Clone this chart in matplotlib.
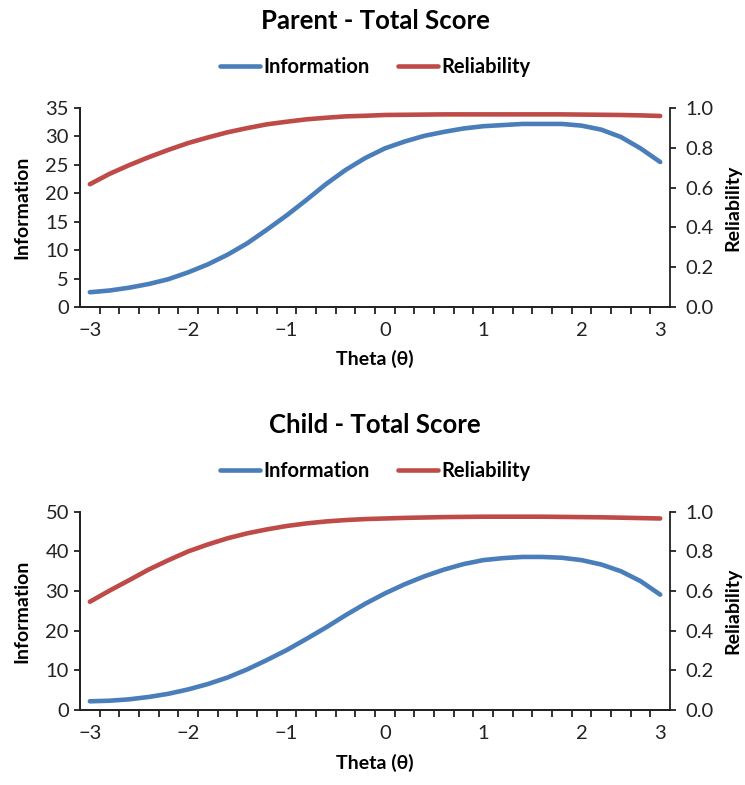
import matplotlib
matplotlib.use("Agg")
import matplotlib.pyplot as plt
import numpy as np

plt.rcParams['font.family'] = ['Lato', 'DejaVu Sans']

# theta categories (30 points), only some are labelled
tick_pos = [0, 5, 10, 15, 20, 25, 29]
tick_labels = ["\u22123", "\u22122", "\u22121", "0", "1", "2", "3"]

parent_info = [2.6, 2.9, 3.4, 4.05, 4.9, 6.1, 7.5, 9.2, 11.2, 13.6,
               16.1, 18.8, 21.6, 24.1, 26.2, 27.9, 29.1, 30.1, 30.8, 31.4,
               31.8, 32.0, 32.2, 32.2, 32.2, 31.9, 31.2, 29.9, 27.9, 25.5]
parent_rel = [0.617, 0.669, 0.713, 0.753, 0.790, 0.824, 0.852, 0.878, 0.899, 0.918,
              0.931, 0.943, 0.951, 0.958, 0.961, 0.965, 0.966, 0.967, 0.968, 0.968,
              0.968, 0.968, 0.968, 0.968, 0.968, 0.967, 0.966, 0.965, 0.963, 0.960]

child_info = [2.2, 2.35, 2.7, 3.3, 4.1, 5.2, 6.55, 8.2, 10.25, 12.6,
              15.1, 17.9, 20.8, 23.9, 26.8, 29.4, 31.7, 33.7, 35.4, 36.8,
              37.8, 38.3, 38.6, 38.6, 38.4, 37.8, 36.7, 35.0, 32.5, 29.1]
child_rel = [0.546, 0.602, 0.655, 0.709, 0.756, 0.800, 0.835, 0.866, 0.891, 0.911,
             0.928, 0.941, 0.951, 0.958, 0.963, 0.966, 0.969, 0.971, 0.973, 0.974,
             0.975, 0.975, 0.975, 0.975, 0.974, 0.973, 0.972, 0.970, 0.968, 0.966]

blue = "#4A7EBB"
red = "#BE4B48"
dark = "#222222"

fig = plt.figure(figsize=(7.45, 7.85), dpi=100)


def draw_panel(rect, title, info, rel, ymax, ystep):
    ax = fig.add_axes(rect)
    ax2 = ax.twinx()
    x = np.arange(len(info))
    l1, = ax.plot(x, info, color=blue, lw=3.3, solid_capstyle="round", label="Information")
    l2, = ax2.plot(x, rel, color=red, lw=3.3, solid_capstyle="round", label="Reliability")

    ax.set_xlim(-0.5, len(info) - 0.5)
    ax.set_ylim(0, ymax)
    ax2.set_ylim(0, 1.0)
    ax.set_yticks(np.arange(0, ymax + 0.1, ystep))
    ax2.set_yticks(np.arange(0, 1.01, 0.2))
    ax2.set_yticklabels(["%.1f" % v for v in np.arange(0, 1.01, 0.2)])

    # labels sit on categories, tick marks sit between categories
    ax.set_xticks(tick_pos)
    ax.set_xticklabels(tick_labels)
    ax.set_xticks(np.arange(0.5, len(info) - 0.5, 1), minor=True)
    ax.tick_params(axis="x", which="major", length=0, pad=11, labelsize=14.5, colors=dark)
    ax.tick_params(axis="x", which="minor", length=5, width=1.3, direction="out", color=dark)
    ax.tick_params(axis="y", length=4, width=1.3, pad=4, labelsize=14.5, colors=dark)
    ax2.tick_params(axis="y", length=4, width=1.3, pad=7, labelsize=14.5, colors=dark)

    for a in (ax, ax2):
        a.spines["top"].set_visible(False)
        for s in ("left", "right", "bottom"):
            a.spines[s].set_color(dark)
            a.spines[s].set_linewidth(1.3)
    ax.spines["right"].set_visible(False)

    ax.set_xlabel("Theta (\u03b8)", fontsize=14, fontweight="bold", labelpad=8, color="black")
    ax.set_ylabel("Information", fontsize=14, fontweight="bold", labelpad=11, color="black")
    ax2.set_ylabel("Reliability", fontsize=14, fontweight="bold", labelpad=8, color="black")

    ax.set_title(title, fontsize=18.5, fontweight="bold", y=1.0, pad=57)
    ax.legend(handles=[l1, l2], loc="center", bbox_to_anchor=(0.5, 1.205), ncol=2,
              frameon=False, prop={"weight": "bold", "size": 14.5},
              handlelength=2.0, handletextpad=0.15, columnspacing=1.4)


draw_panel([0.1074, 0.6089, 0.792, 0.2535], "Parent - Total Score", parent_info, parent_rel, 35, 5)
draw_panel([0.1074, 0.0955, 0.792, 0.2526], "Child - Total Score", child_info, child_rel, 50, 10)

fig.savefig("out.png", dpi=100)
